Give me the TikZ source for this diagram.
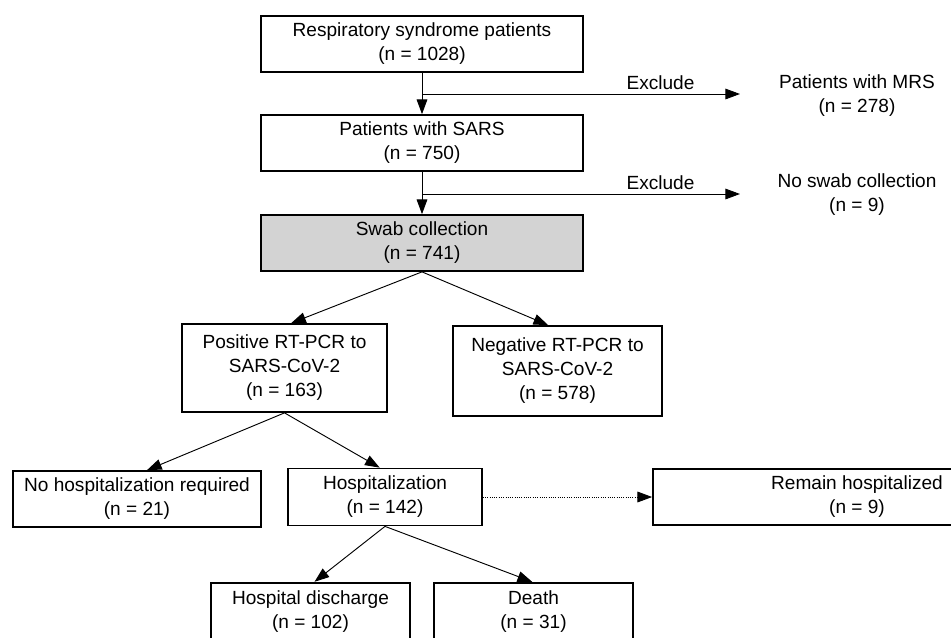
\documentclass[tikz,border=0pt]{standalone}
\usepackage{fontspec}
\setmainfont{Liberation Sans}
\usetikzlibrary{arrows.meta}
\definecolor{swabgray}{RGB}{211,211,211}

\begin{document}
\begin{tikzpicture}[x=0.75pt, y=-0.75pt]
        % Box and arrow style definitions
        \tikzset{
            box/.style={draw=black, line width=1.3pt, align=center, inner sep=0pt,
                font=\fontsize{14.3}{18}\selectfont},
            plain/.style={align=center, inner sep=0pt, font=\fontsize{14.3}{18}\selectfont},
            arrow/.style={black, line width=0.7pt, -{Triangle[length=11pt, width=8pt]}},
            dotarrow/.style={arrow, densely dotted}
        }
        \useasboundingbox (0,0) rectangle (951,637);
        \clip (0,0) rectangle (951,637);

        % ==========================================
        % SCREENING (top column)
        % ==========================================
        \node[box, minimum width=242pt, minimum height=42pt] (resp) at (422,44)
            {Respiratory syndrome patients\\(n = 1028)};
        \node[box, minimum width=242pt, minimum height=42pt] (sars) at (422,143)
            {Patients with SARS\\(n = 750)};
        \node[box, fill=swabgray, minimum width=242pt, minimum height=42pt] (swab) at (422,243)
            {Swab collection\\(n = 741)};

        \draw[arrow] (resp.south) -- (sars.north);
        \draw[arrow] (sars.south) -- (swab.north);

        % Exclusions to the right
        \node[plain] (mrs) at (857,96) {Patients with MRS\\(n = 278)};
        \node[plain] (noswab) at (857,195) {No swab collection\\(n = 9)};

        \coordinate (exA) at (422,94);
        \coordinate (exAend) at (740,94);
        \draw[arrow] (exA) -- node[plain, above=3pt, pos=0.75] {Exclude} (exAend);

        \coordinate (exB) at (422,194);
        \coordinate (exBend) at (740,194);
        \draw[arrow] (exB) -- node[plain, above=3pt, pos=0.75] {Exclude} (exBend);

        % ==========================================
        % RT-PCR RESULT
        % ==========================================
        \node[box, minimum width=153.75pt, minimum height=66pt] (pos) at (284.5,368)
            {Positive RT-PCR to\\SARS-CoV-2\\(n = 163)};
        \node[box, minimum width=156.75pt, minimum height=67.5pt] (neg) at (557.5,371)
            {Negative RT-PCR to\\SARS-CoV-2\\(n = 578)};

        \draw[arrow] (swab.south) -- ([xshift=5pt]pos.north);
        \draw[arrow] (swab.south) -- ([xshift=-7pt]neg.north);

        % ==========================================
        % HOSPITALIZATION
        % ==========================================
        \node[box, minimum width=186pt, minimum height=42pt] (nohosp) at (137,499)
            {No hospitalization required\\(n = 21)};
        \node[box, minimum width=145.5pt, minimum height=42.75pt] (hosp) at (385,497)
            {Hospitalization\\(n = 142)};
        \node[box, minimum width=306pt, minimum height=42pt] (remain) at (857,497)
            {Remain hospitalized\\(n = 9)};

        \draw[arrow] (pos.south) -- ([xshift=7.5pt]nohosp.north);
        \draw[arrow] (pos.south) -- ([xshift=-4pt]hosp.north);
        \draw[dotarrow] (hosp.east) -- (remain.west);

        % ==========================================
        % OUTCOME
        % ==========================================
        \node[box, minimum width=149.25pt, minimum height=44pt] (discharge) at (310.5,612)
            {Hospital discharge\\(n = 102)};
        \node[box, minimum width=149.25pt, minimum height=44pt] (death) at (533.5,612)
            {Death\\(n = 31)};

        \draw[arrow] (hosp.south) -- ([xshift=3pt]discharge.north);
        \draw[arrow] (hosp.south) -- ([xshift=-1pt]death.north);

\end{tikzpicture}
\end{document}
